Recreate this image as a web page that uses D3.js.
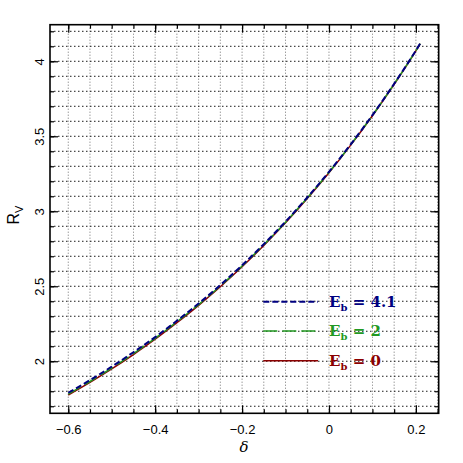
<!DOCTYPE html>
<html><head><meta charset="utf-8">
<script src="https://cdn.jsdelivr.net/npm/d3@7"></script>
<style>
html,body{margin:0;padding:0;background:#fff;}
svg{display:block;}
.tk text{font-family:"Liberation Sans",Arial,sans-serif;font-size:13px;fill:#000;}
</style></head>
<body><svg id="c" width="463" height="463"></svg>
<script>
const delta = [-0.6,-0.55,-0.5,-0.45,-0.4,-0.35,-0.3,-0.25,-0.2,-0.15,-0.1,-0.05,0,0.05,0.1,0.15,0.2,0.21];
const rvE0  = [1.775,1.859,1.949,2.045,2.147,2.257,2.373,2.497,2.630,2.772,2.923,3.085,3.257,3.441,3.637,3.847,4.070,4.117];
const rvE2  = [1.781,1.865,1.955,2.051,2.153,2.263,2.378,2.502,2.635,2.776,2.927,3.089,3.260,3.444,3.639,3.849,4.071,4.118];
const rvE41 = [1.790,1.874,1.964,2.060,2.161,2.270,2.385,2.508,2.640,2.781,2.931,3.092,3.263,3.446,3.641,3.850,4.072,4.119];
const seriesNames = ["4.1","2","0"];
const xMajor = [-0.6,-0.4,-0.2,0,0.2];
const xMajorLabels = ["\u22120.6","\u22120.4","\u22120.2","0","0.2"];
const yMajor = [2,2.5,3,3.5,4];
const yMajorLabels = ["2","2.5","3","3.5","4"];

const svg = d3.select("#c");
const L=50,R=438.7,T=24.7,B=413.3;
const x = d3.scaleLinear().domain([-0.642,0.2525]).range([L,R]);
const y = d3.scaleLinear().domain([1.653,4.244]).range([B,T]);

const xMinor = d3.range(-0.6,0.2501,0.05).map(v=>+v.toFixed(2));
const yMinor = d3.range(1.7,4.2001,0.1).map(v=>+v.toFixed(1));

// grid
const g = svg.append("g");
g.selectAll("line.vx").data(xMinor).join("line")
 .attr("x1",d=>x(d)).attr("x2",d=>x(d)).attr("y1",T).attr("y2",B)
 .attr("stroke","#000").attr("stroke-width",0.8).attr("stroke-dasharray","1,2").attr("opacity",0.7);
g.selectAll("line.hy").data(yMinor).join("line")
 .attr("x1",L).attr("x2",R).attr("y1",d=>y(d)).attr("y2",d=>y(d))
 .attr("stroke","#000").attr("stroke-width",0.9).attr("stroke-dasharray","1.5,2.5");

// axes ticks
function ax(gen, tr){ const a=svg.append("g").attr("class","tk").attr("transform",tr).call(gen);
  a.select(".domain").remove(); a.selectAll("line").attr("stroke","#000").attr("stroke-width",1.2); return a;}
ax(d3.axisBottom(x).tickValues(xMinor).tickSize(-4).tickFormat(""),`translate(0,${B})`);
ax(d3.axisBottom(x).tickValues(xMajor).tickSize(-8).tickFormat((d,i)=>xMajorLabels[i]).tickPadding(11),`translate(0,${B})`);
ax(d3.axisTop(x).tickValues(xMinor).tickSize(-4).tickFormat(""),`translate(0,${T})`);
ax(d3.axisTop(x).tickValues(xMajor).tickSize(-8).tickFormat(""),`translate(0,${T})`);
ax(d3.axisRight(y).tickValues(yMinor).tickSize(-4).tickFormat(""),`translate(${R},0)`);
ax(d3.axisRight(y).tickValues(yMajor).tickSize(-8).tickFormat(""),`translate(${R},0)`);
ax(d3.axisLeft(y).tickValues(yMinor).tickSize(-4).tickFormat(""),`translate(${L},0)`);
const yl = ax(d3.axisLeft(y).tickValues(yMajor).tickSize(-8).tickFormat((d,i)=>yMajorLabels[i]),`translate(${L},0)`);
yl.selectAll("text").attr("x",0).attr("y",0).attr("dy",null)
  .attr("text-anchor","middle").attr("transform","translate(-6,0) rotate(-90)");

// frame
svg.append("rect").attr("x",L).attr("y",T).attr("width",R-L).attr("height",B-T)
 .attr("fill","none").attr("stroke","#000").attr("stroke-width",1.6);

// curves
const line = d3.line().x((d,i)=>x(delta[i])).y(d=>y(d)).curve(d3.curveMonotoneX);
const cfg = [
 {v:rvE0, c:"#8b0000", w:1.5, dash:null},
 {v:rvE2, c:"#229922", w:1.5, dash:"14,5"},
 {v:rvE41,c:"#000080", w:2, dash:"6,3"}
];
cfg.forEach(s=>svg.append("path").attr("d",line(s.v)).attr("fill","none")
  .attr("stroke",s.c).attr("stroke-width",s.w).attr("stroke-dasharray",s.dash));

// legend
const leg = [
 {n:seriesNames[0],c:"#000080",w:2,dash:"6,3",yy:301.7},
 {n:seriesNames[1],c:"#229922",w:1.5,dash:"14,5",yy:331},
 {n:seriesNames[2],c:"#8b0000",w:1.5,dash:null,yy:360.7}
];
leg.forEach(s=>{
 svg.append("line").attr("x1",263.3).attr("x2",318).attr("y1",s.yy).attr("y2",s.yy)
  .attr("stroke",s.c).attr("stroke-width",s.w).attr("stroke-dasharray",s.dash);
 const t=svg.append("text").attr("x",329).attr("y",s.yy+5)
  .attr("font-family","DejaVu Serif, serif").attr("font-weight","bold").attr("font-size",15).attr("fill",s.c);
 t.append("tspan").text("E");
 t.append("tspan").text("b").attr("font-size",10).attr("dy",4);
 t.append("tspan").text(" = "+s.n).attr("dy",-4);
});

// axis labels
svg.append("text").attr("x",244).attr("y",452).attr("text-anchor","middle")
 .attr("font-family","DejaVu Serif, serif").attr("font-style","italic").attr("font-size",15).text("δ");
const yt = svg.append("text").attr("transform","translate(19,215) rotate(-90)").attr("text-anchor","middle")
 .attr("font-family","Liberation Sans, Arial, sans-serif").attr("font-size",16);
yt.append("tspan").text("R");
yt.append("tspan").text("V").attr("font-size",11).attr("dy",4);
</script></body></html>
